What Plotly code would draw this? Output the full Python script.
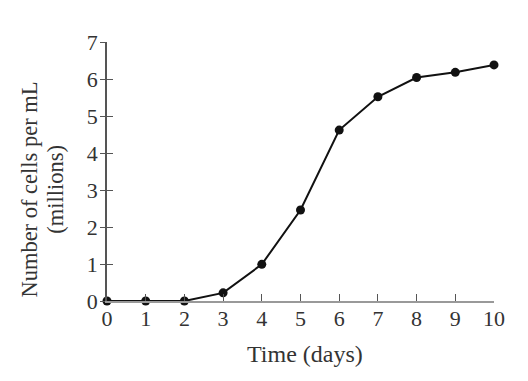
import plotly.graph_objects as go

days = [0, 1, 2, 3, 4, 5, 6, 7, 8, 9, 10]
cells = [0, 0, 0, 0.22, 0.99, 2.46, 4.62, 5.52, 6.04, 6.18, 6.38]
x_ticks = list(range(0, 11))
y_ticks = list(range(0, 8))
x_title = "Time (days)"
y_title_line1 = "Number of cells per mL"
y_title_line2 = "(millions)"

FONT = "Liberation Serif"

fig = go.Figure()
fig.add_trace(go.Scatter(
    x=days, y=cells, mode="lines+markers",
    line=dict(color="#111111", width=2),
    marker=dict(color="#111111", size=9),
    cliponaxis=False, showlegend=False,
))
# invisible trace to activate the secondary y axis (for crossing ticks)
fig.add_trace(go.Scatter(x=[0], y=[0], yaxis="y2", mode="markers",
                         marker=dict(opacity=0), showlegend=False, hoverinfo="skip"))

fig.update_layout(
    width=520, height=373,
    margin=dict(l=99, r=33.5, t=34, b=79.5),
    paper_bgcolor="white", plot_bgcolor="white",
    font=dict(family=FONT, size=22, color="#333333"),
    xaxis=dict(
        range=[0, 10], tickvals=x_ticks, ticktext=[str(v) for v in x_ticks],
        showgrid=False, zeroline=False, showline=True, linecolor="#999999", linewidth=1.5,
        ticks="inside", ticklen=7, tickcolor="#555555", tickwidth=1,
        tickfont=dict(size=22), automargin=False, ticklabelstandoff=-3,
    ),
    yaxis=dict(
        range=[0, 7], tickvals=y_ticks, ticktext=[str(v) for v in y_ticks],
        showgrid=False, zeroline=False, showline=True, linecolor="#555555", linewidth=1.5,
        ticks="outside", ticklen=5, tickcolor="#555555", tickwidth=1,
        tickfont=dict(size=22), automargin=False, ticklabelstandoff=-2,
    ),
    yaxis2=dict(
        range=[0, 7], overlaying="y", side="left", tickvals=y_ticks,
        showticklabels=False, showgrid=False, zeroline=False, showline=False,
        ticks="inside", ticklen=6, tickcolor="#555555", tickwidth=1, automargin=False,
    ),
    annotations=[
        dict(text=x_title, xref="paper", yref="paper", x=0.511, y=-0.206,
             xanchor="center", yanchor="middle", showarrow=False,
             font=dict(size=24, family=FONT, color="#333333")),
        dict(text=y_title_line1, xref="paper", yref="paper", x=-0.199, y=0.43,
             xanchor="center", yanchor="middle", showarrow=False, textangle=-90,
             font=dict(size=22.5, family=FONT, color="#333333")),
        dict(text=y_title_line2, xref="paper", yref="paper", x=-0.134, y=0.43,
             xanchor="center", yanchor="middle", showarrow=False, textangle=-90,
             font=dict(size=22.5, family=FONT, color="#333333")),
    ],
)

fig.write_html("out.html")
